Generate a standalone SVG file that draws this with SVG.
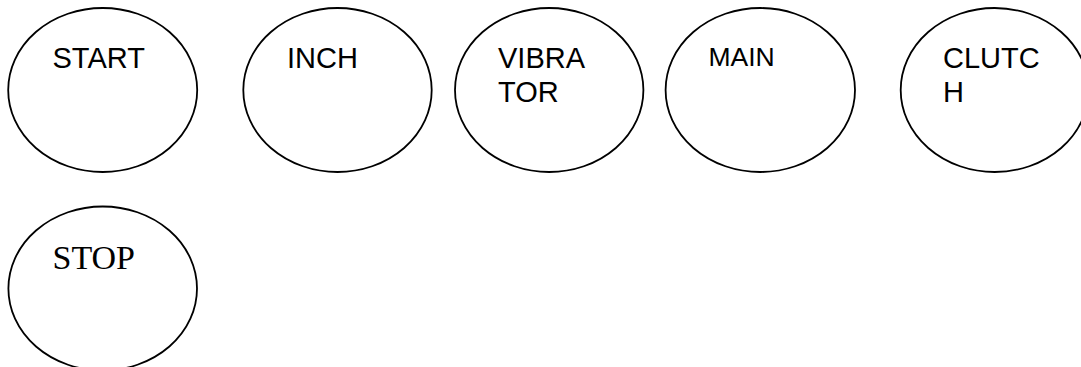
<svg xmlns="http://www.w3.org/2000/svg" width="1081" height="367" viewBox="0 0 1081 367">
<style>
.n{fill:#fff;stroke:#000;stroke-width:1.8}
.t{font-family:"Liberation Sans",Arial,sans-serif;font-size:29px;fill:#000}
.m{font-family:"Liberation Sans",Arial,sans-serif;font-size:26.5px;fill:#000}
.s{font-family:"Liberation Serif","Times New Roman",serif;font-size:34px;fill:#000}
</style>
<rect width="1081" height="367" fill="#fff"/>
<g id="connectors"></g>
<g id="start"><ellipse class="n" cx="102.7" cy="90" rx="94.5" ry="82"/><text class="t" x="52.5" y="68.3">START</text></g>
<g id="inch"><ellipse class="n" cx="337.5" cy="90" rx="94.2" ry="82"/><text class="t" x="287" y="68.3">INCH</text></g>
<g id="vibrator"><ellipse class="n" cx="549.2" cy="90" rx="94.2" ry="82"/><text class="t" x="498" y="68.3">VIBRA</text><text class="t" x="498" y="101.7">TOR</text></g>
<g id="main"><ellipse class="n" cx="760.3" cy="90" rx="94.7" ry="82"/><text class="m" x="708.5" y="66">MAIN</text></g>
<g id="clutch"><ellipse class="n" cx="994.7" cy="90" rx="94" ry="82"/><text class="t" x="943" y="68.3">CLUTC</text><text class="t" x="943" y="101.7">H</text></g>
<g id="stop"><ellipse class="n" cx="102.7" cy="288.5" rx="94.3" ry="82"/><text class="s" x="52.5" y="269">STOP</text></g>
</svg>
